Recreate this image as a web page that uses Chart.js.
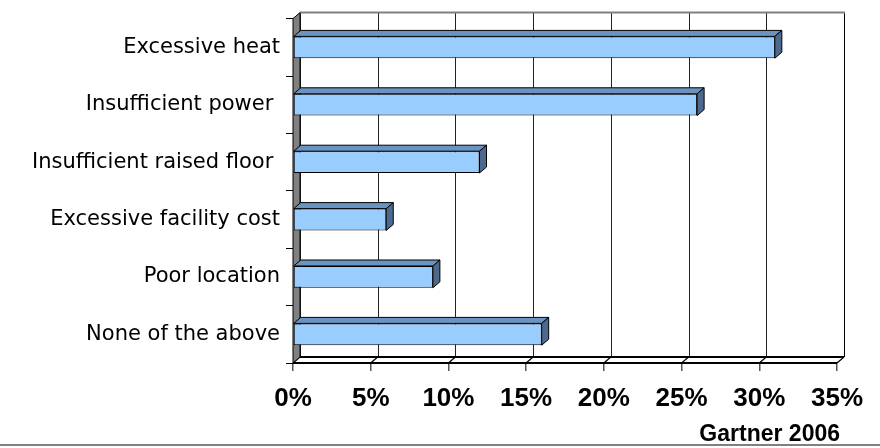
<!DOCTYPE html>
<html>
<head>
<meta charset="utf-8">
<script src="https://cdn.jsdelivr.net/npm/chart.js@4/dist/chart.umd.min.js"></script>
<style>
html,body{margin:0;padding:0;background:#fff;}
#wrap{width:880px;height:448px;position:relative;}
</style>
</head>
<body>
<div id="wrap"><canvas id="c" width="880" height="448"></canvas></div>
<script>
const categories = ['Excessive heat', 'Insufficient power ', 'Insufficient raised floor ', 'Excessive facility cost', 'Poor location', 'None of the above'];
const values = [31, 26, 12, 6, 9, 16];
const xMin = 0, xMax = 35, xStep = 5;
const sourceNote = 'Gartner 2006';

const DX = 7, DY = -6;

const threeD = {
  id: 'threeD',
  beforeDatasetsDraw(chart) {
    const ctx = chart.ctx, a = chart.chartArea, xs = chart.scales.x;
    ctx.save();
    ctx.fillStyle = '#fff';
    ctx.fillRect(a.left + DX, a.top + DY, a.right - a.left, a.bottom - a.top);
    ctx.lineWidth = 1;
    for (let v = xMin; v <= xMax; v += xStep) {
      const x = Math.round(xs.getPixelForValue(v) + DX) + 0.5;
      ctx.strokeStyle = v === xMax ? '#000' : '#222';
      ctx.beginPath();
      ctx.moveTo(x, a.top + DY);
      ctx.lineTo(x, a.bottom + DY);
      ctx.stroke();
    }
    ctx.strokeStyle = '#808080';
    ctx.lineWidth = 2;
    ctx.beginPath();
    ctx.moveTo(a.left + DX, a.top + DY);
    ctx.lineTo(a.right + DX + 1, a.top + DY);
    ctx.stroke();
    ctx.lineWidth = 1;
    ctx.fillStyle = '#fff';
    ctx.beginPath();
    ctx.moveTo(a.left, a.bottom);
    ctx.lineTo(a.left + DX, a.bottom + DY);
    ctx.lineTo(a.right + DX, a.bottom + DY);
    ctx.lineTo(a.right, a.bottom);
    ctx.closePath();
    ctx.fill();
    ctx.strokeStyle = '#000';
    ctx.lineWidth = 2;
    ctx.beginPath();
    ctx.moveTo(a.left + DX, a.bottom + DY);
    ctx.lineTo(a.right + DX, a.bottom + DY);
    ctx.moveTo(a.left, a.bottom);
    ctx.lineTo(a.right, a.bottom);
    ctx.stroke();
    ctx.lineWidth = 1.2;
    for (let v = xMin; v <= xMax; v += xStep) {
      const x = xs.getPixelForValue(v);
      ctx.beginPath();
      ctx.moveTo(x, a.bottom);
      ctx.lineTo(x + DX, a.bottom + DY);
      ctx.stroke();
    }
    ctx.fillStyle = '#808080';
    ctx.beginPath();
    ctx.moveTo(a.left, a.top);
    ctx.lineTo(a.left + DX, a.top + DY);
    ctx.lineTo(a.left + DX, a.bottom + DY);
    ctx.lineTo(a.left, a.bottom);
    ctx.closePath();
    ctx.fill();
    ctx.strokeStyle = '#000';
    ctx.lineWidth = 1;
    ctx.stroke();
    ctx.restore();
  },
  afterDatasetsDraw(chart) {
    const ctx = chart.ctx;
    const meta = chart.getDatasetMeta(0);
    ctx.save();
    ctx.strokeStyle = '#000';
    ctx.lineWidth = 1;
    meta.data.forEach(bar => {
      const x0 = bar.base, x1 = bar.x;
      const yT = bar.y - bar.height / 2, yB = bar.y + bar.height / 2;
      ctx.fillStyle = '#6A93C2';
      ctx.beginPath();
      ctx.moveTo(x0, yT);
      ctx.lineTo(x0 + DX, yT + DY);
      ctx.lineTo(x1 + DX, yT + DY);
      ctx.lineTo(x1, yT);
      ctx.closePath();
      ctx.fill(); ctx.stroke();
      ctx.fillStyle = '#4C6A8E';
      ctx.beginPath();
      ctx.moveTo(x1, yT);
      ctx.lineTo(x1 + DX, yT + DY);
      ctx.lineTo(x1 + DX, yB + DY);
      ctx.lineTo(x1, yB);
      ctx.closePath();
      ctx.fill(); ctx.stroke();
    });
    ctx.restore();
  },
  afterDraw(chart) {
    const ctx = chart.ctx;
    ctx.save();
    ctx.strokeStyle = '#808080';
    ctx.lineWidth = 2;
    ctx.beginPath();
    ctx.moveTo(0, 445);
    ctx.lineTo(880, 445);
    ctx.stroke();
    ctx.fillStyle = '#000';
    ctx.font = 'bold 23px "Liberation Sans", Arial, sans-serif';
    ctx.textAlign = 'right';
    ctx.textBaseline = 'alphabetic';
    ctx.fillText(sourceNote, 840, 441);
    ctx.restore();
  }
};

new Chart(document.getElementById('c'), {
  type: 'bar',
  data: {
    labels: categories,
    datasets: [{
      data: values,
      backgroundColor: '#99CCFF',
      borderColor: '#000',
      borderWidth: 1,
      borderSkipped: false,
      categoryPercentage: 1,
      barPercentage: 0.38
    }]
  },
  options: {
    indexAxis: 'y',
    responsive: false,
    animation: false,
    devicePixelRatio: 1,
    layout: { padding: { top: 13, right: 43, left: 0, bottom: 0 } },
    plugins: { legend: { display: false }, tooltip: { enabled: false }, title: { display: false } },
    scales: {
      x: {
        min: xMin, max: xMax,
        ticks: {
          stepSize: xStep,
          color: '#000',
          padding: 12,
          font: { family: '"Liberation Sans", Arial, sans-serif', weight: 'bold', size: 26 },
          callback: v => v + '%'
        },
        grid: { drawOnChartArea: false, drawTicks: true, tickLength: 8, color: '#555', lineWidth: 1.5 },
        border: { display: false },
        afterFit(scale) { scale.height = 85; }
      },
      y: {
        ticks: {
          color: '#000',
          padding: 6,
          font: { family: '"DejaVu Sans", sans-serif', size: 21 }
        },
        grid: { drawOnChartArea: false, drawTicks: true, tickLength: 7, color: '#000', offset: true },
        border: { display: false },
        afterFit(scale) { scale.width = 293; }
      }
    }
  },
  plugins: [threeD]
});
</script>
</body>
</html>
